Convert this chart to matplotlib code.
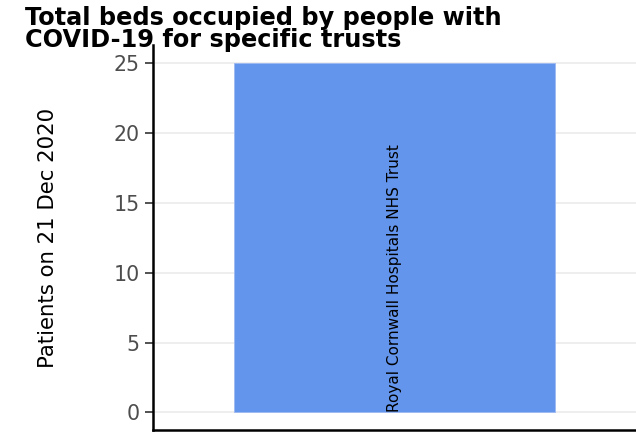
import matplotlib
matplotlib.use("Agg")
import matplotlib.pyplot as plt

# data
trusts = ["Royal Cornwall Hospitals NHS Trust"]
patients = [25]
y_ticks = [0, 5, 10, 15, 20, 25]

fig = plt.figure(figsize=(6.36, 4.33), dpi=100)
ax = fig.add_axes([0.2406, 0.007, 0.7594, 0.888])

x = list(range(1, len(trusts) + 1))
ax.bar(x, patients, width=0.9, color="#6495ED", edgecolor="#9DB9F2", linewidth=0.6, zorder=2)

# label inside the bar, rotated
for xi, name in zip(x, trusts):
    ax.text(xi, 0, name, rotation=90, ha="center", va="bottom", fontsize=11, color="black", zorder=3)

ax.set_xlim(1 - 0.677, len(trusts) + 0.677)
ax.set_ylim(-1.25, max(patients) * 1.05)
ax.set_yticks(y_ticks)
ax.set_yticklabels([str(t) for t in y_ticks], fontsize=14.8, color="#4D4D4D")
ax.set_xticks([])

ax.grid(axis="y", color="#EBEBEB", linewidth=1.2, zorder=0)
ax.set_axisbelow(True)
for s in ["top", "right"]:
    ax.spines[s].set_visible(False)
ax.spines["left"].set_linewidth(1.8)
ax.spines["bottom"].set_linewidth(1.8)
ax.tick_params(axis="y", length=5.5, width=1.2, color="#333333", pad=4)

ax.set_ylabel("Patients on 21 Dec 2020", fontsize=15.3, labelpad=40)

fig.text(0.039, 0.985, "Total beds occupied by people with\nCOVID-19 for specific trusts",
         fontsize=17.3, fontweight="bold", ha="left", va="top", linespacing=0.85)

fig.savefig("out.png", dpi=100)
